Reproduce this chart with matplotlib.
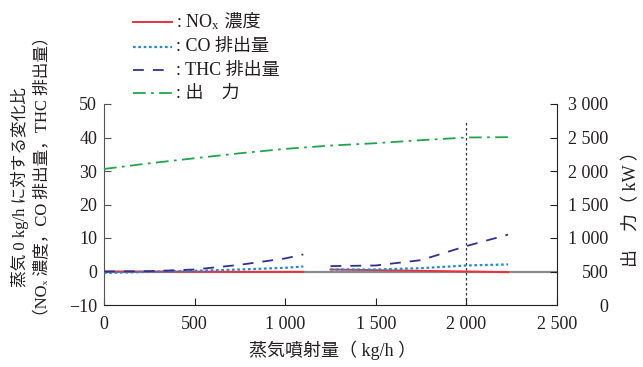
# steam injection vs. emissions / output (two y axes)
import numpy as np
import matplotlib
matplotlib.use("Agg")
import matplotlib.pyplot as plt
from matplotlib.lines import Line2D

plt.rcParams['font.family'] = ['Liberation Serif', 'Noto Sans CJK JP', 'DejaVu Sans']
plt.rcParams['mathtext.fontset'] = 'custom'
plt.rcParams['mathtext.rm'] = 'Liberation Serif'
plt.rcParams['mathtext.it'] = 'Liberation Serif'

TXT = '#231f20'

# steam injection rate (kg/h); NaN splits the two measurement runs
steam = [0, 250, 500, 750, 1000, 1100, np.nan, 1250, 1500, 1750, 2000, 2230]
nox = [0.0, 0.0, -0.05, -0.1, -0.1, -0.1, np.nan, 0.6, 0.4, 0.2, 0.0, -0.2]
co = [-0.4, -0.1, 0.2, 0.6, 1.1, 1.5, np.nan, 0.6, 0.6, 1.0, 1.8, 2.1]
thc = [0.0, 0.1, 0.6, 2.0, 3.9, 5.1, np.nan, 1.6, 1.8, 3.4, 7.6, 11.0]

steam_out = [0, 250, 500, 750, 1000, 1250, 1500, 1750, 2000, 2230]
output_kw = [2030, 2115, 2190, 2265, 2330, 2380, 2415, 2460, 2500, 2505]

x_ticks = [0, 500, 1000, 1500, 2000, 2500]
x_ticklabels = ['0', '500', '1 000', '1 500', '2 000', '2 500']
y_ticks = [-10, 0, 10, 20, 30, 40, 50]
y2_ticks = [0, 500, 1000, 1500, 2000, 2500, 3000]
y2_ticklabels = ['0', '500', '1 000', '1 500', '2 000', '2 500', '3 000']

# line styles (colour, dash pattern, width)
st_nox = dict(color='#e8323c', ls='-', lw=1.4)
st_co = dict(color='#1f8ad6', ls=(0, (1.2, 1.2)), lw=1.6)
st_thc = dict(color='#2e3192', ls=(0, (6, 5)), lw=1.3)
st_out = dict(color='#1fa64c', ls=(0, (7, 3, 1.5, 3)), lw=1.3)

fig = plt.figure(figsize=(6.43, 3.67), dpi=100)
ax = fig.add_axes([104 / 643, 62 / 367, 453 / 643, 201 / 367])
ax2 = ax.twinx()

ax.axhline(0, color='#8a8a8a', lw=1.6, zorder=1)
ax.plot([2000, 2000], [-10, 45], color='#333333', ls=(0, (2, 2)), lw=0.9, zorder=1)

ax.plot(steam, nox, zorder=3, **st_nox)
ax.plot(steam, co, zorder=3, **st_co)
ax.plot(steam, thc, zorder=3, **st_thc)
ax2.plot(steam_out, output_kw, **st_out)

ax.set_xlim(0, 2500)
ax.set_ylim(-10, 50)
ax2.set_ylim(0, 3000)
ax.set_xticks(x_ticks, x_ticklabels)
ax.set_yticks(y_ticks)
ax2.set_yticks(y2_ticks, y2_ticklabels)

for a in (ax, ax2):
    a.spines['top'].set_visible(False)
ax2.spines['left'].set_visible(False)
ax.spines['right'].set_visible(False)
ax.spines['left'].set_color('#555555')
ax.spines['bottom'].set_color('#222222')
ax2.spines['right'].set_color('#222222')
ax2.spines['bottom'].set_visible(False)

ax.tick_params(axis='x', direction='in', length=5, pad=8, labelsize=13,
               colors=TXT, color='#222222')
ax.tick_params(axis='y', direction='in', length=5, pad=5, labelsize=13,
               colors=TXT, color='#555555')
ax2.tick_params(axis='y', direction='in', length=5, pad=37, labelsize=13,
                colors=TXT, color='#222222')
for lab in ax2.get_yticklabels():
    lab.set_horizontalalignment('right')

# axis titles
fig.text(333 / 643, 1 - 350 / 367, '蒸気噴射量（ kg/h ）', ha='center', va='center',
         fontsize=13, color=TXT)
fig.text(20 / 643, 1 - 187 / 367, '蒸気 0 kg/h に対する変化比', rotation=90,
         ha='center', va='center', fontsize=12, color=TXT)
fig.text(43 / 643, 1 - 177 / 367, '（NOₓ 濃度，CO 排出量，THC 排出量）', rotation=90,
         ha='center', va='center', fontsize=12, color=TXT)
fig.text(632 / 643, 1 - 205 / 367, '出　力（ kW ）', rotation=90,
         ha='center', va='center', fontsize=13, color=TXT)

# legend drawn by hand above the axes
rows = [22, 47, 70, 93]
styles = [st_nox, st_co, st_thc, st_out]
for yy, s in zip(rows, styles):
    yf = 1 - yy / 367
    fig.add_artist(Line2D([133 / 643, 172 / 643], [yf, yf], color=s['color'],
                          ls=s['ls'], lw=s['lw'], transform=fig.transFigure))
t = fig.text(176 / 643, 1 - rows[0] / 367, ': NO$_\\mathregular{x}$', va='center',
             fontsize=13, color=TXT)
ax.annotate(' 濃度', xy=(1, 0.5), xycoords=t, va='center', fontsize=13, color=TXT)
fig.text(176 / 643, 1 - rows[1] / 367, ': CO 排出量', va='center', fontsize=13, color=TXT)
fig.text(176 / 643, 1 - rows[2] / 367, ': THC 排出量', va='center', fontsize=13, color=TXT)
fig.text(176 / 643, 1 - rows[3] / 367, ': 出　力', va='center', fontsize=13, color=TXT)

fig.savefig('out.png', dpi=100)
